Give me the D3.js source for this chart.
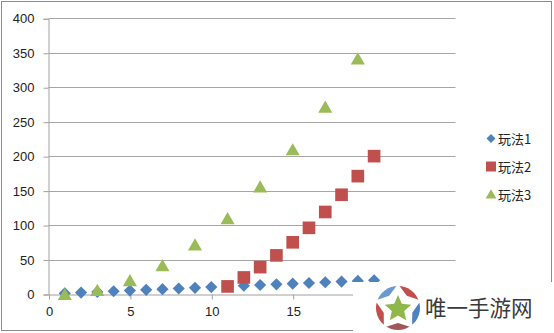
<!DOCTYPE html>
<html>
<head>
<meta charset="utf-8">
<script src="https://cdn.jsdelivr.net/npm/d3@7"></script>
<style>
  html, body { margin: 0; padding: 0; background: #fff; }
  svg { display: block; }
</style>
</head>
<body>
<svg id="chart" width="554" height="333"></svg>
<script>
// Series data
const seriesNames = ["玩法1", "玩法2", "玩法3"];
const x1 = [1, 2, 3, 4, 5, 6, 7, 8, 9, 10, 11, 12, 13, 14, 15, 16, 17, 18, 19, 20];
const y1 = [1, 2, 3, 4, 5, 6, 7, 8, 9, 10, 11, 12, 13, 14, 15, 16, 17, 18, 19, 20];
const x2 = [11, 12, 13, 14, 15, 16, 17, 18, 19, 20];
const y2 = [11, 24, 39, 56, 75, 96, 119, 144, 171, 200];
const x3 = [1, 3, 5, 7, 9, 11, 13, 15, 17, 19];
const y3 = [0, 6, 20, 42, 72, 110, 156, 210, 272, 342];
const xTicks = [0, 5, 10, 15];
const yTicks = [0, 50, 100, 150, 200, 250, 300, 350, 400];
const colors = ["#4f81bd", "#c0504d", "#9bbb59"];

const svg = d3.select("#chart");
const font = "'Liberation Sans', Arial, sans-serif";

// Outer frame
svg.append("rect")
  .attr("x", 1.5).attr("y", 1.5).attr("width", 550).attr("height", 329)
  .attr("fill", "#fff").attr("stroke", "#8c8c8c").attr("stroke-width", 1);

const x = d3.scaleLinear().domain([0, 25]).range([48.5, 455.5]);
const y = d3.scaleLinear().domain([0, 400]).range([294, 18.3]);

// Horizontal gridlines
svg.append("g")
  .selectAll("line")
  .data(yTicks.filter(v => v > 0))
  .join("line")
  .attr("x1", x(0)).attr("x2", x(25))
  .attr("y1", d => Math.round(y(d)) + 0.5).attr("y2", d => Math.round(y(d)) + 0.5)
  .attr("stroke", "#a6a6a6").attr("stroke-width", 1);

// Y axis
const yAxis = svg.append("g")
  .attr("transform", `translate(${x(0)},0.5)`)
  .call(d3.axisLeft(y).tickValues(yTicks).tickSize(5).tickPadding(9)
    .tickFormat(d3.format("d")));
yAxis.selectAll("path, line").attr("stroke", "#a0a0a0");
yAxis.selectAll("text").attr("font-family", font).attr("font-size", 13).attr("fill", "#222");

// X axis
const xAxis = svg.append("g")
  .attr("transform", `translate(0.5,${Math.round(y(0)) + 0.5})`)
  .call(d3.axisBottom(x).tickValues(xTicks).tickSize(5).tickSizeOuter(0).tickPadding(7)
    .tickFormat(d3.format("d")));
xAxis.selectAll("path, line").attr("stroke", "#a0a0a0");
xAxis.selectAll("text").attr("font-family", font).attr("font-size", 13).attr("fill", "#222");

// Markers
const diamond = d3.symbol().type(d3.symbolSquare).size(74);
const square = d3.symbol().type(d3.symbolSquare).size(160);
const triSize = 86;
const triangle = d3.symbol().type(d3.symbolTriangle).size(triSize);
// centre the triangle on its bounding box rather than its centroid
const triShift = Math.sqrt(triSize / (Math.sqrt(3) * 3)) / 2;

svg.append("g").selectAll("path")
  .data(x1.map((v, i) => [v, y1[i]]))
  .join("path")
  .attr("d", diamond())
  .attr("transform", d => `translate(${x(d[0])},${y(d[1])}) rotate(45)`)
  .attr("fill", colors[0]);

svg.append("g").selectAll("path")
  .data(x2.map((v, i) => [v, y2[i]]))
  .join("path")
  .attr("d", square())
  .attr("transform", d => `translate(${x(d[0])},${y(d[1])})`)
  .attr("fill", colors[1]);

svg.append("g").selectAll("path")
  .data(x3.map((v, i) => [v, y3[i]]))
  .join("path")
  .attr("d", triangle())
  .attr("transform", d => `translate(${x(d[0])},${y(d[1]) + triShift})`)
  .attr("fill", colors[2]);

// Legend
const legend = svg.append("g");
const legendSymbols = [
  { p: d3.symbol().type(d3.symbolSquare).size(40)(), rot: 45, dy: 0 },
  { p: d3.symbol().type(d3.symbolSquare).size(100)(), rot: 0, dy: 0 },
  { p: d3.symbol().type(d3.symbolTriangle).size(50)(), rot: 0, dy: 1 }
];
seriesNames.forEach((name, i) => {
  const cy = 138.5 + i * 28;
  legend.append("path")
    .attr("d", legendSymbols[i].p)
    .attr("transform", `translate(491,${cy + legendSymbols[i].dy}) rotate(${legendSymbols[i].rot})`)
    .attr("fill", colors[i]);
  legend.append("text")
    .attr("x", 498).attr("y", cy + 5)
    .attr("font-family", "'Noto Sans CJK SC', " + font)
    .attr("font-size", 13).attr("fill", "#222")
    .text(name);
});

// Site badge in the lower right corner
const badge = svg.append("g");
badge.append("rect")
  .attr("x", 353).attr("y", 282).attr("width", 201).attr("height", 51)
  .attr("fill", "#fff");

const cx = 398, cy = 308, r = 22;
const wedgeColors = ["#c0504d", "#4f81bd", "#a0575a", "#c0504d", "#6a9ad0"];
const arc = d3.arc().innerRadius(0).outerRadius(r);
wedgeColors.forEach((c, i) => {
  const mid = (-54 + i * 72 + 90) * Math.PI / 180;
  badge.append("path")
    .attr("d", arc({ startAngle: mid - 36 * Math.PI / 180, endAngle: mid + 36 * Math.PI / 180 }))
    .attr("transform", `translate(${cx},${cy})`)
    .attr("fill", c);
});
function starPath(R, rr) {
  const pts = [];
  for (let k = 0; k < 10; k++) {
    const a = (-90 + k * 36) * Math.PI / 180;
    const rad = k % 2 === 0 ? R : rr;
    pts.push([Math.cos(a) * rad, Math.sin(a) * rad]);
  }
  return d3.line()(pts) + "Z";
}
badge.append("path")
  .attr("d", starPath(r + 2, 15))
  .attr("transform", `translate(${cx},${cy})`)
  .attr("fill", "#fff");
badge.append("path")
  .attr("d", starPath(14, 6.5))
  .attr("transform", `translate(${cx},${cy + 1})`)
  .attr("fill", "#8fb74a");
badge.append("text")
  .attr("x", 425).attr("y", 316)
  .attr("font-family", "'Noto Sans CJK SC', sans-serif")
  .attr("font-size", 21.5).attr("fill", "#3a3a3a")
  .text("唯一手游网");
</script>
</body>
</html>
